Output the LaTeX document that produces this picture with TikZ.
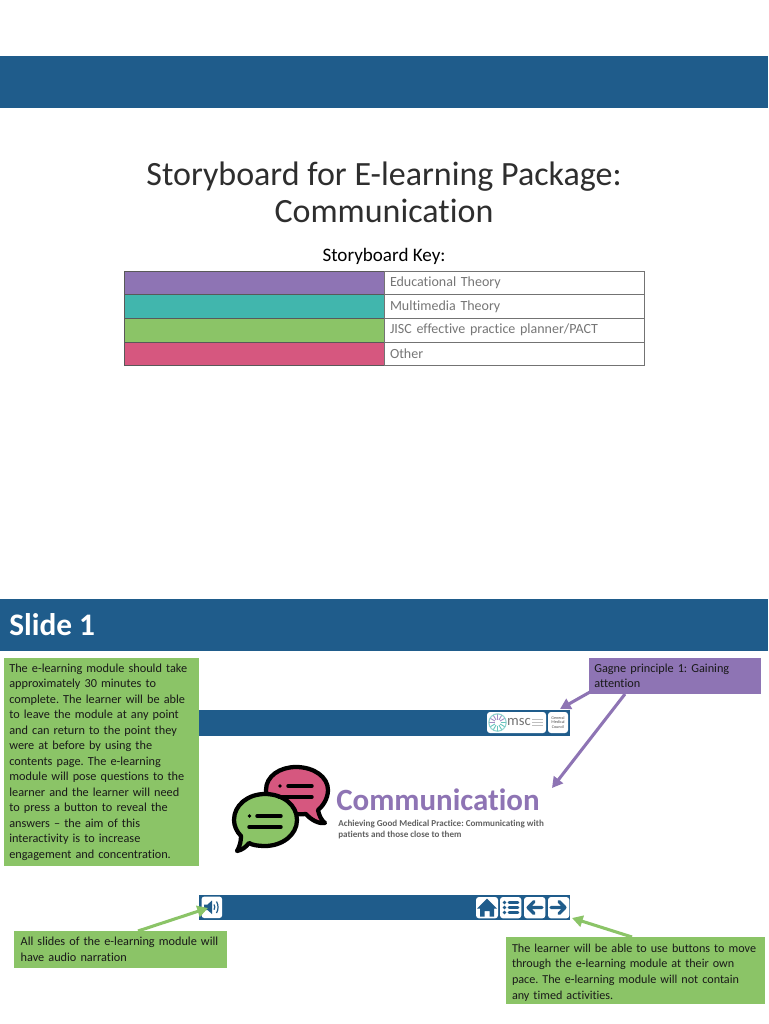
\documentclass[tikz,border=0pt]{standalone}
\usepackage{fontspec}
\setmainfont[Ligatures=NoCommon]{Carlito}
\usetikzlibrary{arrows.meta}
\definecolor{hdr}{HTML}{1F5C8B}
\definecolor{kpurple}{HTML}{8E74B4}
\definecolor{kteal}{HTML}{41B6AD}
\definecolor{kgreen}{HTML}{8BC467}
\definecolor{kpink}{HTML}{D6577F}
\definecolor{kgrey}{HTML}{767676}
\newcommand{\fs}[2]{\fontsize{#1}{#2}\selectfont\frenchspacing}
\newcommand{\st}{\rule{0pt}{9.5pt}}
\tikzset{
 x=0.75pt,y=-0.75pt,
 band/.style={fill=hdr,draw=none,inner sep=0pt,outer sep=0pt,anchor=north west},
 keyswatch/.style={draw=black!65,line width=0.5pt,inner sep=0pt,outer sep=0pt,anchor=north west,minimum width=195pt,minimum height=17.6pt},
 keytext/.style={draw=black!55,line width=0.5pt,fill=white,inner xsep=4.5pt,inner ysep=0pt,outer sep=0pt,anchor=north west,minimum width=195pt,text width=186pt,minimum height=17.6pt,align=left,text=kgrey,font=\fs{10.5}{12}},
 notebox/.style={inner xsep=4pt,inner ysep=0pt,outer sep=0pt,anchor=north west,align=left,text=black!90,font=\fs{9.2}{11.6}},
 conn/.style={line width=2.3pt,-{Triangle[length=8pt,width=8.5pt]}},
 btn/.style={fill=white,rounded corners=2.2pt,inner sep=0pt,outer sep=0pt,anchor=north west},
 icon/.style={fill=hdr,draw=none},
 iconline/.style={draw=hdr,line width=2.4pt,line cap=round,line join=round},
 bub/.style={draw=black,line width=3.2pt,line join=round},
 bubline/.style={draw=black,line width=2.6pt,line cap=round},
}
\begin{document}
\begin{tikzpicture}
\useasboundingbox (0,0) rectangle (768,1024);
\fill[white] (0,0) rectangle (768,1024);
% header bands
\node[band,minimum width=576pt,minimum height=39pt] (topband) at (0,56) {};
\node[band,minimum width=576pt,minimum height=39pt] (slideband) at (0,599) {};
\node[anchor=west,text=white,inner sep=0pt,font=\bfseries\fs{23.5}{28}] (slidetitle) at (9,625) {Slide 1};
% title
\node[align=center,text=black!82,inner sep=0pt,font=\fs{25.5}{28}] (title) at (384,192) {Storyboard for E-learning Package:\\Communication};
\node[text=black,inner sep=0pt,font=\fs{14.3}{16}] (keytitle) at (384,256) {Storyboard Key:};
% key table
\node[keyswatch,fill=kpurple] (k1) at (124,271) {};
\node[keytext] (t1) at (384,271) {Educational Theory};
\node[keyswatch,fill=kteal] (k2) at (124,294.7) {};
\node[keytext] (t2) at (384,294.7) {Multimedia Theory};
\node[keyswatch,fill=kgreen] (k3) at (124,318.4) {};
\node[keytext] (t3) at (384,318.4) {JISC effective practice planner/PACT};
\node[keyswatch,fill=kpink] (k4) at (124,342) {};
\node[keytext] (t4) at (384,342) {Other};
% slide bars
\node[band,minimum width=278.25pt,minimum height=19.5pt] (bartop) at (199,710) {};
\node[band,minimum width=278.25pt,minimum height=18.75pt] (barbot) at (199,895) {};
% logos
\node[btn,minimum width=44.25pt,minimum height=15.75pt] (msc) at (487,712) {};
\node[btn,minimum width=15pt,minimum height=15.75pt] (gmc) at (548,712) {};
\foreach \a in {0,30,...,150}
  \draw[kteal!80,line width=0.7pt] (497.5,722.5) ++(\a:3) -- ++(\a:5.5);
\foreach \a in {180,210,...,330}
  \draw[kpurple!80,line width=0.7pt] (497.5,722.5) ++(\a:3) -- ++(\a:5.5);
\draw[kteal!60,line width=0.8pt] (497.5,722.5) circle[radius=8.7];
\node[inner sep=0pt,text=black!55,font=\fs{11}{11}] (msctext) at (519,721.5) {msc};
\draw[black!25,line width=0.6pt] (532,719.5) -- (543,719.5) (532,722.5) -- (543,722.5) (532,725.5) -- (543,725.5);
\node[align=center,inner sep=0pt,text=black!70,font=\fs{3.1}{3.4}] (gmctext) at (558,722.5) {General\\Medical\\Council};
% bubbles
\path[bub,fill=kpink] (266,790) .. controls (266,776) and (280,767) .. (296,767)
  .. controls (314,767) and (328,777) .. (328,790)
  .. controls (328,799) and (322,807) .. (318,810)
  .. controls (319,815) and (321,820) .. (325,823)
  .. controls (319,824) and (311,820) .. (306,814)
  .. controls (285,816) and (266,806) .. (266,790) -- cycle;
\path[bub,fill=kgreen] (234,820) .. controls (234,805) and (248,794) .. (265,794)
  .. controls (283,794) and (297,805) .. (297,820)
  .. controls (297,835) and (282,846) .. (265,846)
  .. controls (258,846) and (252,845) .. (249,843)
  .. controls (246,847) and (242,850) .. (237,851)
  .. controls (240,846) and (241,841) .. (241,836)
  .. controls (237,832) and (234,826) .. (234,820) -- cycle;
\draw[bubline] (288,786) -- (312,786);
\draw[bubline] (279,797) -- (312,797);
\fill (280,786) circle[radius=1.8];
\draw[bubline] (257,816) -- (281,816);
\draw[bubline] (249,827) -- (281,827);
\fill (249.5,816) circle[radius=1.8];
% logo text
\node[anchor=west,inner sep=0pt,text=kpurple,font=\bfseries\fs{23.2}{26}] (commword) at (336,800) {Communication};
\node[anchor=north west,align=left,inner sep=0pt,text=black!62,font=\bfseries\fs{6.8}{8.2}] (commsub) at (338,819.5) {Achieving Good Medical Practice: Communicating with\\patients and those close to them};
% buttons
\node[btn,minimum width=15.5pt,minimum height=16.2pt] (bspk) at (201.5,896.5) {};
\fill[icon] (204,904.5) -- (207.5,904.5) -- (212,900.5) -- (212,914) -- (207.5,910) -- (204,910) -- cycle;
\draw[hdr,line width=0.9pt] (214,904.5) arc[start angle=-35,end angle=35,radius=4.5];
\draw[hdr,line width=0.9pt] (216.5,901.5) arc[start angle=-30,end angle=30,radius=11.5];
\node[btn,minimum width=16.5pt,minimum height=16pt] (bhome) at (476,897) {};
\fill[icon] (487,898.5) -- (497,908.5) -- (494,908.5) -- (494,916.5) -- (489.5,916.5) -- (489.5,911) -- (484.5,911) -- (484.5,916.5) -- (480,916.5) -- (480,908.5) -- (477,908.5) -- cycle;
\node[btn,minimum width=16pt,minimum height=16pt] (blist) at (500,897) {};
\foreach \yy in {902.5,907.5,912.5}{
  \fill[hdr] (504.5,\yy) circle[radius=1.9];
  \draw[hdr,line width=2pt,line cap=round] (509,\yy) -- (518,\yy);
}
\node[btn,minimum width=16pt,minimum height=16pt] (bleft) at (524,897) {};
\draw[iconline] (542,907.5) -- (528,907.5) (534,901.5) -- (528,907.5) -- (534,913.5);
\node[btn,minimum width=16pt,minimum height=16pt] (bright) at (548,897) {};
\draw[iconline] (551,907.5) -- (565,907.5) (559,901.5) -- (565,907.5) -- (559,913.5);
% notes
\node[notebox,fill=kgreen,minimum width=146.25pt,text width=138.25pt,minimum height=156pt] (notemain) at (4,658) {The e-learning module should take\\approximately 30 minutes to\\complete. The learner will be able\\to leave the module at any point\\and can return to the point they\\were at before by using the\\contents page. The e-learning\\module will pose questions to the\\learner and the learner will need\\to press a button to reveal the\\answers -- the aim of this\\interactivity is to increase\\engagement and concentration.};
\node[notebox,fill=kpurple,minimum width=129pt,text width=121pt,minimum height=27pt] (gagne) at (589,658) {Gagne principle 1: Gaining\\attention};
\node[notebox,fill=kgreen,inner xsep=5pt,minimum width=159.5pt,text width=149.5pt,minimum height=27.5pt] (noteaudio) at (14,931) {All slides of the e-learning module will\\have audio narration};
\node[notebox,fill=kgreen,inner xsep=4.5pt,minimum width=194pt,text width=185pt,minimum height=50pt,font=\fs{9.1}{11.7}] (notenav) at (506,937) {\st The learner will be able to use buttons to move\\through the e-learning module at their own\\pace. The e-learning module will not contain\\any timed activities.};
% connectors
\coordinate (tipmsc) at (560,709);
\coordinate (tipcomm) at (552,788);
\coordinate (tipspk) at (208,908);
\coordinate (tipnav) at (572,918);
\coordinate (gs1) at (590,692);
\coordinate (gs2) at (625,694);
\coordinate (as1) at (138,931);
\coordinate (ns1) at (632,937);
\draw[conn,kpurple] (gs1) -- (tipmsc);
\draw[conn,kpurple] (gs2) -- (tipcomm);
\draw[conn,kgreen] (as1) -- (tipspk);
\draw[conn,kgreen] (ns1) -- (tipnav);
\end{tikzpicture}
\end{document}
